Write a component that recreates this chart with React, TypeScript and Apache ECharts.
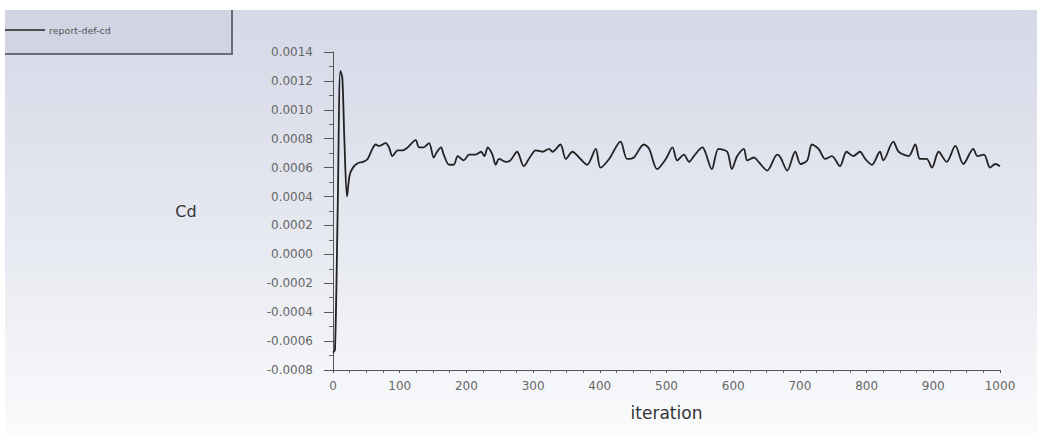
import React, { useEffect, useRef } from "react";
import * as echarts from "echarts";

const iterations = [
  0, 3, 7, 11, 14, 17, 21, 25, 30, 37, 45, 52, 59, 64, 69, 79, 84, 89, 97, 105,
  112, 124, 129, 136, 144, 151, 156, 162, 166, 174, 181, 187, 196, 204, 214, 222, 227, 232, 239, 244,
  249, 259, 266, 276, 286, 295, 304, 314, 324, 329, 341, 349, 359, 371, 381, 394, 401, 414, 431, 441,
  451, 466, 474, 486, 499, 509, 516, 526, 534, 541, 554, 558, 568, 578, 591, 598, 606, 616, 621, 631,
  638, 651, 666, 671, 681, 693, 701, 711, 718, 728, 738, 748, 760, 770, 780, 790, 798, 808, 820, 825,
  840, 848, 863, 873, 880, 890, 898, 908, 920, 933, 945, 960, 966, 976, 985, 993, 1000,
];

const cdValues = [
  -0.00068, -0.00066, 0.0003, 0.00127, 0.00122, 0.0008, 0.0004, 0.00055, 0.0006, 0.00063, 0.00064, 0.00066, 0.00073, 0.00076, 0.00075, 0.00077, 0.00074, 0.00068, 0.00072, 0.00072,
  0.00074, 0.00079, 0.00074, 0.00074, 0.00077, 0.00067, 0.00071, 0.00074, 0.00069, 0.00062, 0.00062, 0.00068, 0.00065, 0.00069, 0.00069, 0.00071, 0.00068, 0.00074, 0.00069, 0.00062,
  0.00066, 0.00064, 0.00065, 0.00071, 0.00061, 0.00067, 0.00072, 0.00071, 0.00073, 0.00071, 0.00076, 0.00066, 0.00071, 0.00066, 0.00062, 0.00073, 0.0006, 0.00066, 0.00078, 0.00066,
  0.00067, 0.00076, 0.00073, 0.00059, 0.00066, 0.00074, 0.00065, 0.00069, 0.00064, 0.00068, 0.00074, 0.00071, 0.00059, 0.00073, 0.00071, 0.00059, 0.00068, 0.00073, 0.00065, 0.00067,
  0.00064, 0.00058, 0.00069, 0.00067, 0.00058, 0.00071, 0.000625, 0.00065, 0.00076, 0.00073, 0.00066, 0.00068, 0.00061, 0.00071, 0.00068, 0.00071, 0.00066, 0.00062, 0.00071, 0.00065,
  0.00078, 0.00071, 0.00068, 0.00076, 0.00066, 0.00066, 0.0006, 0.00071, 0.00064, 0.00075, 0.000625, 0.00073, 0.00068, 0.00069, 0.0006, 0.000625, 0.00061,
];

const seriesName = "report-def-cd";
const xAxisTitle = "iteration";
const yAxisTitle = "Cd";

export default function App() {
  const ref = useRef<HTMLDivElement>(null);
  useEffect(() => {
    if (!ref.current) return;
    const chart = echarts.init(ref.current, null, { renderer: "svg" });
    const data = iterations.map((it, i) => [it, cdValues[i]]);
    const labelFont = "'DejaVu Sans', sans-serif";
    chart.setOption({
      animation: false,
      backgroundColor: "#ffffff",
      graphic: [
        {
          type: "rect",
          z: -10,
          shape: { x: 5, y: 10, width: 1032, height: 424 },
          style: {
            fill: new echarts.graphic.LinearGradient(0, 0, 0, 1, [
              { offset: 0, color: "#d5d8e7" },
              { offset: 0.6, color: "#e9ebf2" },
              { offset: 1, color: "#fafbfc" },
            ]),
          },
          silent: true,
        },
        {
          type: "rect",
          z: -5,
          shape: { x: 5, y: 10, width: 228, height: 44 },
          style: { fill: "#d1d4e3" },
          silent: true,
        },
        {
          type: "polyline",
          z: -4,
          shape: { points: [[232, 10], [232, 54], [5, 54]] },
          style: { stroke: "#6a6c74", lineWidth: 2, fill: "none" },
          silent: true,
        },
        {
          type: "text",
          x: 186,
          y: 211,
          style: {
            text: yAxisTitle,
            fontSize: 16,
            fontFamily: labelFont,
            fill: "#333",
            align: "center",
            verticalAlign: "middle",
          },
        },
      ],
      legend: {
        left: 5,
        top: 25,
        padding: 0,
        icon: "rect",
        itemWidth: 40,
        itemHeight: 1.5,
        itemGap: 4,
        textStyle: { fontSize: 9.5, color: "#555", fontFamily: labelFont, padding: [0, 0, 0, -1] },
        data: [seriesName],
      },
      grid: { left: 333, right: 47, top: 52, bottom: 70, containLabel: false },
      xAxis: {
        type: "value",
        min: 0,
        max: 1000,
        interval: 100,
        name: xAxisTitle,
        nameLocation: "middle",
        nameGap: 34,
        nameTextStyle: { fontSize: 17, color: "#333", fontFamily: labelFont },
        axisLine: { show: true, onZero: false, lineStyle: { color: "#555", width: 1 } },
        axisTick: { show: true, length: 3, lineStyle: { color: "#555" } },
        minorTick: { show: true, splitNumber: 4, length: 3, lineStyle: { color: "#666" } },
        axisLabel: {
          fontSize: 12,
          color: "#666",
          margin: 10,
          fontFamily: labelFont,
          formatter: (v: number) => String(Math.round(v)),
        },
        splitLine: { show: false },
      },
      yAxis: {
        type: "value",
        min: -0.0008,
        max: 0.0014,
        interval: 0.0002,
        axisLine: { show: true, onZero: false, lineStyle: { color: "#555", width: 1 } },
        axisTick: { show: true, length: 9, lineStyle: { color: "#555" } },
        minorTick: { show: true, splitNumber: 2, length: 4, lineStyle: { color: "#666" } },
        axisLabel: {
          fontSize: 12,
          color: "#666",
          margin: 20,
          fontFamily: labelFont,
          formatter: (v: number) => (Math.abs(v) < 1e-10 ? 0 : v).toFixed(4),
        },
        splitLine: { show: false },
      },
      series: [
        {
          name: seriesName,
          type: "line",
          data,
          showSymbol: false,
          smooth: 0.3,
          lineStyle: { color: "#222", width: 1.8 },
          itemStyle: { color: "#222" },
        },
      ],
    });
    return () => chart.dispose();
  }, []);
  return (
    <div
      ref={ref}
      style={{ position: "fixed", left: 0, top: 0, width: 1047, height: 440 }}
    />
  );
}
